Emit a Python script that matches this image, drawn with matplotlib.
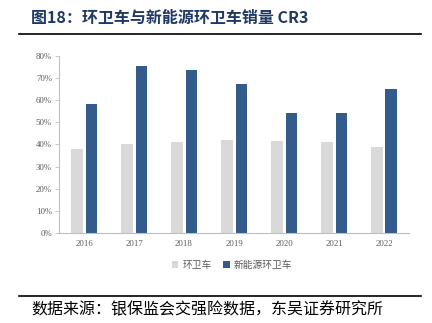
import matplotlib
matplotlib.use("Agg")
import matplotlib.pyplot as plt
import numpy as np

plt.rcParams['font.family'] = ['Noto Sans CJK SC', 'DejaVu Sans']

years = ['2016', '2017', '2018', '2019', '2020', '2021', '2022']
cr3_all = [0.38, 0.40, 0.41, 0.42, 0.415, 0.41, 0.39]
cr3_nev = [0.582, 0.752, 0.734, 0.671, 0.543, 0.543, 0.652]
series_names = ['环卫车', '新能源环卫车']
title = '图18：环卫车与新能源环卫车销量 CR3'
source = '数据来源：银保监会交强险数据，东吴证券研究所'

fig = plt.figure(figsize=(4.32, 3.23), dpi=100)
W, H = 432, 323
ax = fig.add_axes([59 / W, 1 - 233 / H, 350 / W, (233 - 55.7) / H])

x = np.arange(len(years))
bw = 0.23
c_gray = '#d9d9d9'
c_blue = '#335c8c'
ax.bar(x - 0.145, cr3_all, width=bw, color=c_gray, label=series_names[0])
ax.bar(x + 0.145, cr3_nev, width=bw, color=c_blue, label=series_names[1])

ax.set_xlim(-0.5, len(years) - 0.5)
ax.set_ylim(0, 0.8)
ax.set_yticks(np.arange(0, 0.81, 0.1))
ax.set_yticklabels([f'{int(round(v * 100))}%' for v in np.arange(0, 0.81, 0.1)],
                   family=['Liberation Serif'], fontsize=6.3, color='#595959')
ax.set_xticks(x)
ax.set_xticklabels(years, family=['Liberation Serif'], fontsize=6.3, color='#595959')
for s in ['top', 'right']:
    ax.spines[s].set_visible(False)
ax.spines['left'].set_color('#bfbfbf')
ax.spines['bottom'].set_color('#bfbfbf')
ax.spines['left'].set_linewidth(0.8)
ax.spines['bottom'].set_linewidth(0.8)
ax.tick_params(axis='y', length=3, width=0.6, color='#bfbfbf', pad=2)
ax.tick_params(axis='x', length=0, pad=5)

leg = fig.legend(loc='center', bbox_to_anchor=(232 / W, 1 - 265 / H), ncol=2, frameon=False,
                 fontsize=7, handlelength=0.7, handleheight=0.7, handletextpad=0.4,
                 columnspacing=1.2, labelcolor='#595959')

fig.text(31 / W, 1 - 18 / H, title, fontsize=11.5, fontweight='bold', color='#1f3864',
         va='center', ha='left')
fig.add_artist(plt.Line2D([19 / W, 421 / W], [1 - 34 / H, 1 - 34 / H], color='black', lw=1.2,
                          transform=fig.transFigure))
fig.add_artist(plt.Line2D([19 / W, 421 / W], [1 - 296 / H, 1 - 296 / H], color='black', lw=1.2,
                          transform=fig.transFigure))
fig.text(31 / W, 1 - 310 / H, source, fontsize=11.5, color='black', va='center', ha='left')

fig.savefig('out.png', dpi=100)
